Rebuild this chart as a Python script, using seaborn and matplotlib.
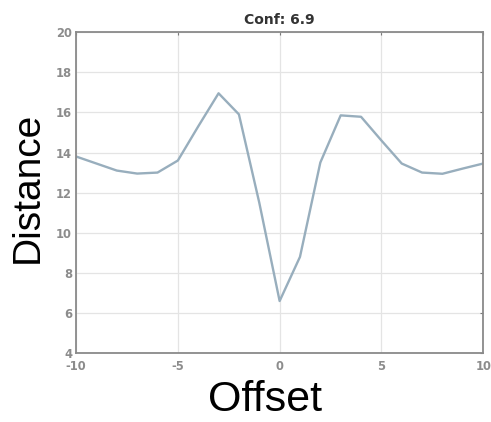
import matplotlib
matplotlib.use("Agg")
import matplotlib.pyplot as plt
import seaborn as sns
import pandas as pd

offsets = [-10, -9, -8, -7, -6, -5, -4, -3, -2, -1, 0, 1, 2, 3, 4, 5, 6, 7, 8, 9, 10]
distances = [13.8, 13.45, 13.1, 12.95, 13.0, 13.6, 15.3, 16.95, 15.9, 11.5, 6.6,
             8.8, 13.5, 15.85, 15.78, 14.6, 13.45, 13.0, 12.94, 13.2, 13.45]
xticks = [-10, -5, 0, 5, 10]
yticks = [4, 6, 8, 10, 12, 14, 16, 18, 20]
title = "Conf: 6.9"

sns.set_style("white")
plt.rcParams['font.family'] = ['DejaVu Sans']

df = pd.DataFrame({"Offset": offsets, "Distance": distances})

fig = plt.figure(figsize=(4.91, 4.22), dpi=100)
ax = fig.add_axes([0.155, 0.163, 0.829, 0.761])
sns.lineplot(data=df, x="Offset", y="Distance", ax=ax, color="#98aebd", linewidth=1.7)

ax.set_xlim(-10, 10)
ax.set_ylim(4, 20)
ax.set_xticks(xticks)
ax.set_yticks(yticks)
ax.set_xticklabels([str(t) for t in xticks])
ax.set_yticklabels([str(t) for t in yticks])
ax.grid(True, color="#e4e4e4", linewidth=0.9)
ax.tick_params(axis="both", direction="in", length=2.5, width=0.8, color="#777777",
               labelsize=8.3, labelcolor="#8c8c8c", top=True, right=True)
ax.tick_params(axis="x", pad=5)
ax.tick_params(axis="y", pad=3)
for lab in ax.get_xticklabels() + ax.get_yticklabels():
    lab.set_fontweight("bold")
for sp in ax.spines.values():
    sp.set_color("#8a8a8a")
    sp.set_linewidth(1.3)

ax.set_title(title, fontsize=10, fontweight="bold", color="#333333", pad=6)
ax.set_xlabel("Offset", fontsize=31, family="Liberation Sans", color="black", labelpad=5)
ax.set_ylabel("Distance", fontsize=28, family="Liberation Sans", color="black", labelpad=7)
ax.xaxis.label.set_x(0.463)
ax.yaxis.label.set_y(0.517)

fig.savefig("out.png", dpi=100)
